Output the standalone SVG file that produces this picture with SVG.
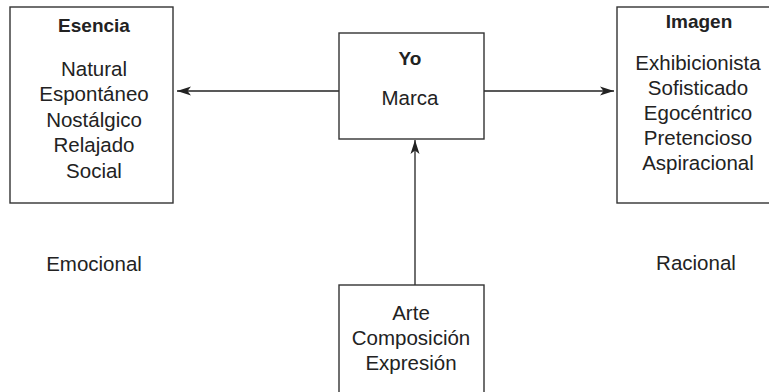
<svg xmlns="http://www.w3.org/2000/svg" width="769" height="392" viewBox="0 0 769 392">
<style>
.box{fill:#fff;stroke:#333;stroke-width:1.4}
.t{font-family:"Liberation Sans",Arial,sans-serif;font-size:20.5px;fill:#222;text-anchor:middle}
.b{font-weight:bold;font-size:19px}
.c{stroke:#222;stroke-width:1.3;fill:none}
</style>
<defs>
<marker id="ah" viewBox="0 0 14 10" refX="14" refY="5" markerWidth="14" markerHeight="10" markerUnits="userSpaceOnUse" orient="auto">
<path d="M0,0.5 L14,5 L0,9.5 L3.5,5 Z" fill="#222"/>
</marker>
</defs>
<rect width="769" height="392" fill="#fff"/>
<g id="connectors">
<line class="c" x1="339" y1="91" x2="177" y2="91" marker-end="url(#ah)"/>
<line class="c" x1="484" y1="91" x2="614" y2="91" marker-end="url(#ah)"/>
<line class="c" x1="415" y1="285" x2="415" y2="140" marker-end="url(#ah)"/>
</g>
<g id="esencia">
<rect class="box" x="10" y="7" width="163" height="196"/>
<text class="t b" x="94" y="31.5">Esencia</text>
<text class="t" x="94" y="75.5">Natural</text>
<text class="t" x="94" y="101">Espontáneo</text>
<text class="t" x="94" y="126.5">Nostálgico</text>
<text class="t" x="94" y="152">Relajado</text>
<text class="t" x="94" y="177.5">Social</text>
</g>
<g id="yo">
<rect class="box" x="339" y="33" width="145" height="106"/>
<text class="t b" x="410" y="65">Yo</text>
<text class="t" x="410" y="105">Marca</text>
</g>
<g id="imagen">
<rect class="box" x="617" y="7" width="170" height="196"/>
<text class="t b" x="699" y="27.5">Imagen</text>
<text class="t" x="698" y="69.5">Exhibicionista</text>
<text class="t" x="698" y="94.5">Sofisticado</text>
<text class="t" x="698" y="119.5">Egocéntrico</text>
<text class="t" x="698" y="145">Pretencioso</text>
<text class="t" x="698" y="170">Aspiracional</text>
</g>
<g id="arte">
<rect class="box" x="339" y="285" width="145" height="120"/>
<text class="t" x="411" y="319.5">Arte</text>
<text class="t" x="411" y="344.5">Composición</text>
<text class="t" x="411" y="369.5">Expresión</text>
</g>
<g id="emocional">
<text class="t" x="94" y="270.5">Emocional</text>
</g>
<g id="racional">
<text class="t" x="696" y="270">Racional</text>
</g>
</svg>
